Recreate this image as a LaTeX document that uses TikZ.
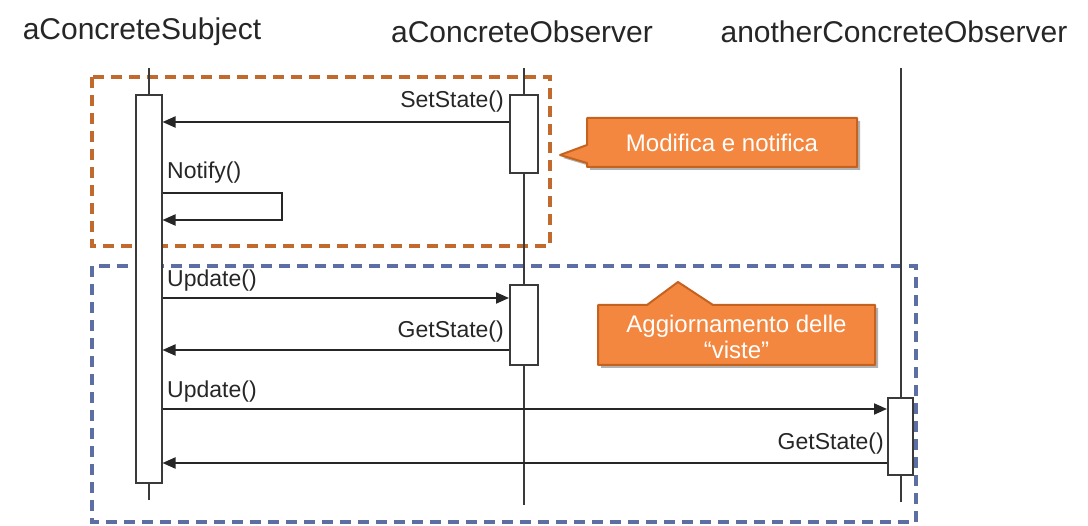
\documentclass[tikz,border=0pt]{standalone}
\usepackage{fontspec}
\setmainfont{Liberation Sans}
\usetikzlibrary{arrows.meta,shadows,backgrounds}
\definecolor{txt}{HTML}{262626}
\definecolor{lifec}{HTML}{3A3A3A}
\definecolor{framec}{HTML}{C2692E}
\definecolor{frameb}{HTML}{5C6EA3}
\definecolor{callfill}{HTML}{F4873F}
\definecolor{calledge}{HTML}{C4631F}
\tikzset{
  title/.style={font=\fontsize{30}{34}\selectfont, text=txt, inner sep=0pt},
  lbl/.style={font=\fontsize{23}{27}\selectfont, text=txt, inner sep=0pt},
  life/.style={draw=lifec, line width=2pt},
  actbox/.style={draw=lifec, fill=white, line width=2pt, inner sep=0pt, minimum width=26pt},
  msg/.style={draw=txt, line width=2pt, -{Triangle[length=13pt,width=11pt]}},
  frameO/.style={draw=framec, line width=3.1pt, dash pattern=on 11pt off 7pt},
  frameB/.style={draw=frameb, line width=3.1pt, dash pattern=on 11pt off 7pt},
  calltext/.style={font=\fontsize{24}{28}\selectfont, text=white, inner sep=0pt, align=center},
  callshape/.style={fill=callfill, draw=calledge, line width=2pt, line join=round,
     drop shadow={shadow xshift=3pt, shadow yshift=-3pt, opacity=0.3, fill=black}}
}
\begin{document}
\begin{tikzpicture}[x=1pt,y=-1pt]
\useasboundingbox (0,0) rectangle (1088,526);
% frames
\draw[frameO] (92,77) rectangle (550,246);
\draw[frameB] (92,266) rectangle (916,522);
% headers
\node[title] (hS) at (142,32) {aConcreteSubject};
\node[title] (hO) at (522,32) {aConcreteObserver};
\node[title] (hA) at (894,32) {anotherConcreteObserver};
% lifelines
\coordinate (sTop) at (148.5,68); \coordinate (sBot) at (148.5,500);
\coordinate (oTop) at (524,68);   \coordinate (oBot) at (524,505);
\coordinate (aTop) at (900.5,68); \coordinate (aBot) at (900.5,502);
\draw[life] (sTop) -- (sBot);
\draw[life] (oTop) -- (oBot);
\draw[life] (aTop) -- (aBot);
% activation boxes
\node[actbox, minimum height=388pt] (sAct) at (148.5,289) {};
\node[actbox, minimum width=28pt, minimum height=78pt] (oAct1) at (524,134) {};
\node[actbox, minimum width=28pt, minimum height=80pt] (oAct2) at (524,325) {};
\node[actbox, minimum width=25pt, minimum height=77pt] (aAct) at (900.5,436.5) {};
% messages
\draw[msg] (oAct1.west |- 0,122) -- (sAct.east |- 0,122);
\coordinate (nA) at (282,193); \coordinate (nB) at (282,220);
\draw[msg] (sAct.east |- nA) -- (nA) -- (nB) -- (sAct.east |- nB);
\draw[msg] (sAct.east |- 0,298) -- (oAct2.west |- 0,298);
\draw[msg] (oAct2.west |- 0,350) -- (sAct.east |- 0,350);
\draw[msg] (sAct.east |- 0,409) -- (aAct.west |- 0,409);
\draw[msg] (aAct.west |- 0,463) -- (sAct.east |- 0,463);
% labels
\node[lbl, anchor=east] (l1) at (504,102) {SetState()};
\node[lbl, anchor=west] (l2) at (167,173) {Notify()};
\node[lbl, anchor=west] (l3) at (167,281) {Update()};
\node[lbl, anchor=east] (l4) at (504,332) {GetState()};
\node[lbl, anchor=west] (l5) at (167,392) {Update()};
\node[lbl, anchor=east] (l6) at (884,444) {GetState()};
% callouts
\coordinate (p1) at (560,155);
\path[callshape] (587,118) -- (857,118) -- (857,167) -- (587,167) -- (587,163) -- (p1) -- (587,145) -- cycle;
\node[calltext] (c1) at (722,142.5) {Modifica e notifica};
\coordinate (p2) at (678,282);
\path[callshape] (598,305) -- (647,305) -- (p2) -- (713,305) -- (875,305) -- (875,365) -- (598,365) -- cycle;
\node[calltext] (c2) at (736.5,337) {Aggiornamento delle\\[-2pt]“viste”};
\end{tikzpicture}
\end{document}
